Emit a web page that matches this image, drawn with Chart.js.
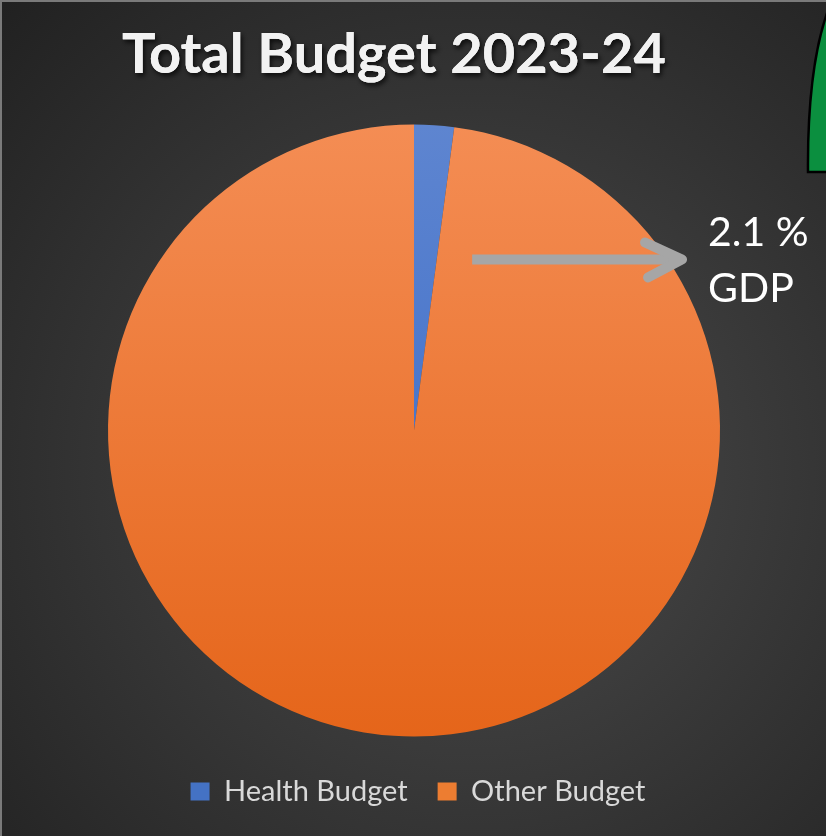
<!DOCTYPE html>
<html>
<head>
<meta charset="utf-8">
<script src="https://cdn.jsdelivr.net/npm/chart.js@4/dist/chart.umd.min.js"></script>
<style>
  html, body { margin: 0; padding: 0; background: #2a2a2a; }
  #c { display: block; }
</style>
</head>
<body>
<canvas id="c" width="826" height="836"></canvas>
<script>
// Budget split for 2023-24 (percent of total)
const categories = ['Health Budget', 'Other Budget'];
const shares = [2.1, 97.9];
const chartTitle = 'Total Budget 2023-24';
const calloutLines = ['2.1 %', 'GDP'];

// top / bottom colours of each slice's vertical gradient
const sliceShades = [['#5E85D0', '#3366C6'], ['#F48D54', '#E5651A']];
const legendSwatch = ['#4472C4', '#ED7D31'];
const PIE_RADIUS = 306;
const FONT = 'Lato, "Open Sans", sans-serif';

function sliceFill(ctx) {
  const chart = ctx.chart;
  const area = chart.chartArea;
  const shade = sliceShades[ctx.dataIndex % sliceShades.length];
  if (!area) return shade[1];
  const cy = (area.top + area.bottom) / 2;
  const g = chart.ctx.createLinearGradient(0, cy - PIE_RADIUS, 0, cy + PIE_RADIUS);
  g.addColorStop(0, shade[0]);
  g.addColorStop(1, shade[1]);
  return g;
}

// dark vignette backdrop, frame edge and the title's drop shadow
const backdrop = {
  id: 'backdrop',
  afterLayout(chart) {
    // nudge the title and legend to their places across the slide
    const t = chart.titleBlock;
    t.left -= 20; t.right -= 20;
    const l = chart.legend;
    l.left += 4; l.right += 4;
  },
  beforeDraw(chart) {
    const { ctx, width, height } = chart;
    ctx.save();
    const g = ctx.createRadialGradient(470, 470, 40, 470, 470, 720);
    g.addColorStop(0, '#4a4a4a');
    g.addColorStop(1, '#1d1d1d');
    ctx.fillStyle = g;
    ctx.fillRect(0, 0, width, height);
    ctx.fillStyle = '#7a7a7a';
    ctx.fillRect(0, 0, width, 2);
    ctx.fillRect(0, 0, 2, height);

    const t = chart.titleBlock;
    const opts = chart.options.plugins.title;
    const size = opts.font.size;
    const y = t.top + opts.padding.top + size * 1.2 / 2;
    ctx.font = 'bold ' + size + 'px ' + FONT;
    ctx.textAlign = 'center';
    ctx.textBaseline = 'middle';
    ctx.shadowColor = 'rgba(0,0,0,0.75)';
    ctx.shadowBlur = 5;
    ctx.shadowOffsetX = 2;
    ctx.shadowOffsetY = 3;
    ctx.fillStyle = opts.color;
    ctx.fillText(opts.text, (t.left + t.right) / 2, y);
    ctx.restore();
  }
};

// arrow pointing out of the pie with its caption
const callout = {
  id: 'callout',
  afterDatasetsDraw(chart) {
    const arc = chart.getDatasetMeta(0).data[0];
    if (!arc) return;
    const { x: cx, y: cy, outerRadius: r } = arc;
    const ctx = chart.ctx;
    const y = cy - r * 0.559;
    const x0 = cx + r * 0.19;
    const x1 = cx + r * 0.876;
    ctx.save();
    ctx.strokeStyle = '#A6A6A6';
    ctx.lineWidth = 10;
    ctx.lineCap = 'butt';
    ctx.beginPath();
    ctx.moveTo(x0, y);
    ctx.lineTo(x1 - 4, y);
    ctx.stroke();
    ctx.lineCap = 'round';
    ctx.lineJoin = 'round';
    ctx.beginPath();
    ctx.moveTo(x1 - 37, y - 17);
    ctx.lineTo(x1, y);
    ctx.lineTo(x1 - 34, y + 18);
    ctx.stroke();

    ctx.fillStyle = '#FFFFFF';
    ctx.font = '41px ' + FONT;
    ctx.textAlign = 'left';
    ctx.textBaseline = 'alphabetic';
    const tx = cx + r * 0.961;
    ctx.fillText(calloutLines[0], tx, cy - r * 0.604);
    ctx.fillText(calloutLines[1], tx, cy - r * 0.42);
    ctx.restore();
  },
  afterDraw(chart) {
    // edge of the neighbouring green shape on the slide
    const { ctx, width } = chart;
    ctx.save();
    ctx.beginPath();
    ctx.moveTo(width + 2, 172);
    ctx.lineTo(808, 172);
    ctx.bezierCurveTo(807.5, 110, 812, 55, width + 2, 10);
    ctx.closePath();
    ctx.fillStyle = '#0B8F3F';
    ctx.fill();
    ctx.strokeStyle = '#000000';
    ctx.lineWidth = 2.5;
    ctx.stroke();
    ctx.restore();
  }
};

new Chart(document.getElementById('c'), {
  type: 'pie',
  data: {
    labels: categories,
    datasets: [{
      data: shares,
      backgroundColor: sliceFill,
      borderWidth: 0,
      hoverBorderWidth: 0,
      hoverOffset: 0,
      radius: PIE_RADIUS
    }]
  },
  options: {
    responsive: false,
    animation: false,
    events: [],
    layout: { padding: { top: 0, left: 2, right: 0, bottom: 20 } },
    plugins: {
      title: {
        display: true,
        text: chartTitle,
        color: '#F2F2F2',
        font: { family: FONT, size: 56, weight: 'bold' },
        padding: { top: 21, bottom: 25.8 }
      },
      legend: {
        position: 'bottom',
        labels: {
          color: '#D9D9D9',
          font: { family: FONT, size: 29 },
          boxWidth: 19,
          boxHeight: 18,
          padding: 30,
          generateLabels(chart) {
            return categories.map((name, i) => ({
              text: name,
              fillStyle: legendSwatch[i],
              strokeStyle: legendSwatch[i],
              lineWidth: 0,
              fontColor: '#D9D9D9',
              index: i,
              hidden: false
            }));
          }
        }
      },
      tooltip: { enabled: false }
    }
  },
  plugins: [backdrop, callout]
});
</script>
</body>
</html>
